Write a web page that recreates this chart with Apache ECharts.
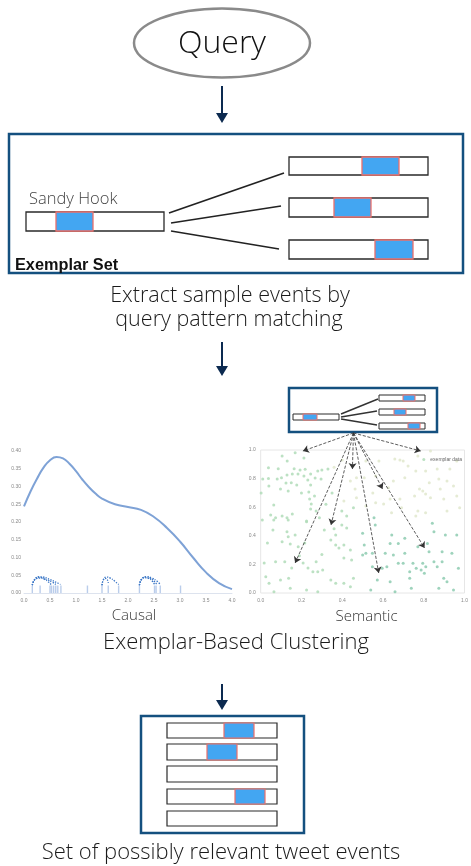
<!DOCTYPE html>
<html><head><meta charset="utf-8">
<script src="https://cdn.jsdelivr.net/npm/echarts@6/dist/echarts.min.js"></script>
<style>html,body{margin:0;padding:0;background:#fff}#c{width:471px;height:866px}</style>
</head><body><div id="c"></div>
<script>
// ---- Causal panel (KDE) ----
const kdeX = [0, 0.125, 0.25, 0.375, 0.5, 0.625, 0.75, 0.875, 1.0, 1.125, 1.25, 1.375, 1.5, 1.75, 2.0, 2.25, 2.5, 2.75, 3.0, 3.25, 3.5, 3.75, 4.0];
const kdeY = [0.244, 0.286, 0.322, 0.353, 0.374, 0.383, 0.379, 0.364, 0.343, 0.319, 0.298, 0.280, 0.266, 0.250, 0.242, 0.234, 0.214, 0.183, 0.145, 0.100, 0.058, 0.028, 0.011];
const rugX = [0.16, 0.31, 0.50, 0.53, 0.57, 0.61, 0.65, 0.71, 1.22, 1.50, 1.62, 1.82, 2.22, 2.51, 2.54, 2.62, 3.01];
const arcs = [
  [[0.16,0.022],[0.19,0.034],[0.25,0.041],[0.31,0.042],[0.40,0.038],[0.47,0.031],[0.52,0.024]],
  [[0.16,0.022],[0.20,0.037],[0.27,0.044],[0.34,0.043],[0.45,0.037],[0.55,0.030],[0.61,0.024]],
  [[0.16,0.022],[0.21,0.039],[0.29,0.046],[0.37,0.045],[0.50,0.038],[0.62,0.030],[0.70,0.024]],
  [[1.50,0.022],[1.52,0.035],[1.56,0.041],[1.60,0.038],[1.62,0.028]],
  [[1.50,0.022],[1.53,0.038],[1.59,0.045],[1.66,0.042],[1.74,0.034],[1.82,0.024]],
  [[2.22,0.022],[2.25,0.036],[2.32,0.043],[2.40,0.041],[2.47,0.033],[2.51,0.024]],
  [[2.22,0.022],[2.26,0.039],[2.34,0.045],[2.43,0.042],[2.50,0.034],[2.55,0.025]],
  [[2.22,0.022],[2.27,0.040],[2.36,0.046],[2.46,0.042],[2.56,0.033],[2.62,0.024]]
];
// ---- Semantic panel (scatter) ----
const semGreen = [[0.105,0.958],[0.169,0.981],[0.212,0.944],[0.13,0.923],[0.038,0.876],[0.086,0.869],[0.164,0.869],[0.193,0.86],[0.218,0.865],[0.28,0.853],[0.30,0.86],[0.33,0.867],[0.01,0.797],[0.038,0.8],[0.081,0.797],[0.102,0.806],[0.129,0.825],[0.155,0.832],[0.183,0.832],[0.212,0.818],[0.245,0.832],[0.267,0.804],[0.04,0.748],[0.124,0.769],[0.15,0.771],[0.177,0.755],[0.231,0.79],[0.245,0.755],[0.296,0.797],[0.002,0.70],[0.097,0.727],[0.135,0.713],[0.2,0.70],[0.236,0.706],[0.264,0.678],[0.24,0.657],[0.248,0.622],[0.245,0.587],[0.064,0.615],[0.049,0.545],[0.073,0.527],[0.105,0.538],[0.129,0.527],[0.155,0.552],[0.135,0.51],[0.225,0.503],[0.272,0.573],[0.288,0.527],[0.398,0.573],[0.422,0.538],[0.455,0.597],[0.008,0.51],[0.064,0.51],[0.225,0.499],[0.312,0.441],[0.398,0.476],[0.422,0.455],[0.129,0.429],[0.169,0.406],[0.135,0.394],[0.033,0.35],[0.105,0.359],[0.145,0.343],[0.184,0.324],[0.216,0.35],[0.368,0.336],[0.384,0.315],[0.408,0.336],[0.44,0.301],[0.408,0.245],[0.446,0.231],[0.017,0.21],[0.073,0.219],[0.118,0.219],[0.152,0.175],[0.208,0.21],[0.232,0.175],[0.256,0.149],[0.28,0.149],[0.304,0.161],[0.272,0.219],[0.025,0.114],[0.097,0.091],[0.137,0.103],[0.041,0.068],[0.145,0.033],[0.065,0.009],[0.225,0.021],[0.28,0.009],[0.344,0.091],[0.368,0.068],[0.408,0.068],[0.44,0.044],[0.455,0.103],[0.344,0.371],[0.368,0.406],[0.32,0.62],[0.35,0.70],[0.36,0.45],[0.30,0.27],[0.06,0.44],[0.19,0.26]];
const semPale = [[0.408,0.643],[0.47,0.666],[0.463,0.727],[0.44,0.783],[0.47,0.806],[0.833,0.993],[0.771,0.958],[0.658,0.937],[0.683,0.93],[0.699,0.923],[0.516,0.923],[0.58,0.923],[0.723,0.888],[0.761,0.853],[0.809,0.853],[0.866,0.867],[0.928,0.867],[0.962,0.923],[0.508,0.806],[0.564,0.818],[0.651,0.783],[0.707,0.806],[0.874,0.797],[0.914,0.783],[0.827,0.771],[0.946,0.748],[0.627,0.736],[0.779,0.727],[0.795,0.713],[0.881,0.727],[0.809,0.692],[0.755,0.678],[0.833,0.666],[0.898,0.657],[0.962,0.678],[0.683,0.657],[0.635,0.657],[0.603,0.622],[0.564,0.631],[0.516,0.608],[0.691,0.597],[0.771,0.573],[0.809,0.562],[0.914,0.573],[0.976,0.597],[0.761,0.538],[0.642,0.562],[0.40,0.93],[0.36,0.88],[0.55,0.70]];
const semTeal = [[0.556,0.527],[0.562,0.476],[0.5,0.417],[0.643,0.406],[0.707,0.382],[0.842,0.487],[0.85,0.429],[0.906,0.406],[0.962,0.406],[0.635,0.347],[0.675,0.347],[0.818,0.347],[0.771,0.324],[0.5,0.266],[0.548,0.278],[0.611,0.278],[0.651,0.266],[0.707,0.278],[0.826,0.289],[0.89,0.289],[0.938,0.278],[0.675,0.208],[0.699,0.208],[0.747,0.208],[0.795,0.208],[0.85,0.219],[0.89,0.219],[0.548,0.184],[0.596,0.173],[0.619,0.184],[0.763,0.173],[0.787,0.161],[0.81,0.184],[0.866,0.184],[0.97,0.173],[0.731,0.149],[0.731,0.103],[0.803,0.138],[0.898,0.103],[0.914,0.079],[0.572,0.091],[0.635,0.079],[0.54,0.021],[0.659,0.009],[0.739,0.033],[0.874,0.033],[0.946,0.021],[0.516,0.278],[0.508,0.336]];
const arrowFrom = [0.455, 1.119];
const arrowTo = [[0.207,0.993],[0.785,0.993],[0.45,0.867],[0.598,0.727],[0.345,0.476],[0.169,0.21],[0.579,0.14],[0.804,0.315]];

const FONT = '"Open Sans", "Liberation Sans", Arial, sans-serif';
const BLUE_BOX = '#14507f';
const HL = '#43a6f2';
const HL_BORDER = '#ec6f6a';

function bar(x, y, w, h, hx, hw, lw) {
  const els = [{type:'rect', shape:{x:x, y:y, width:w, height:h}, style:{fill:'#fff', stroke:'#2a2a2a', lineWidth:lw}}];
  if (hw) els.push({type:'rect', shape:{x:hx, y:y, width:hw, height:h}, style:{fill:HL, stroke:HL_BORDER, lineWidth:lw}});
  return els;
}
function arrow(x, y1, y2) {
  return [
    {type:'line', shape:{x1:x, y1:y1, x2:x, y2:y2-8}, style:{stroke:'#0c2a50', lineWidth:2}},
    {type:'polygon', shape:{points:[[x-6,y2-10],[x+6,y2-10],[x,y2]]}, style:{fill:'#0c2a50'}}
  ];
}
function txt(x, y, s, size, extra) {
  return {type:'text', x:x, y:y, style:Object.assign({text:s, fontSize:size, fontFamily:FONT, fontWeight:300, fill:'#1a1a1a', align:'center', verticalAlign:'middle'}, extra||{})};
}

let g = [];
g.push({type:'ellipse', shape:{cx:222, cy:43, rx:88, ry:34.5}, style:{fill:'#fff', stroke:'#8a8a8a', lineWidth:2.5}});
g.push(txt(222, 44, 'Query', 32, {fill:'#111'}));
g = g.concat(arrow(222, 86, 123));
// exemplar box
g.push({type:'rect', shape:{x:9, y:134, width:454, height:139}, style:{fill:'#fff', stroke:BLUE_BOX, lineWidth:2.5}});
g.push(txt(29, 199, 'Sandy Hook', 16.5, {align:'left', fill:'#444'}));
g = g.concat(bar(26, 212, 138, 19, 56, 37, 1.3));
g = g.concat(bar(289, 157, 139, 18, 362, 37, 1.3));
g = g.concat(bar(289, 198, 139, 19, 334, 37, 1.3));
g = g.concat(bar(289, 240, 139, 19, 375, 38, 1.3));
[[169,213,284,173],[171,223,281,206],[171,231,279,249]].forEach(function(l){
  g.push({type:'line', shape:{x1:l[0], y1:l[1], x2:l[2], y2:l[3]}, style:{stroke:'#222', lineWidth:1.6}});
});
g.push(txt(15, 266, 'Exemplar Set', 16.3, {align:'left', fontWeight:'bold', fill:'#111', fontFamily:'"Liberation Sans", Arial, sans-serif'}));
g.push(txt(230, 296, 'Extract sample events by', 21.5));
g.push(txt(229, 320, 'query pattern matching', 21.5));
g = g.concat(arrow(222, 342, 376));
// inset box
g.push({type:'rect', shape:{x:289, y:388, width:148, height:44}, style:{fill:'#fff', stroke:BLUE_BOX, lineWidth:2.5}});
g = g.concat(bar(293, 414, 46, 6, 303, 14, 1));
g = g.concat(bar(379, 395, 46, 6, 403, 12, 1));
g = g.concat(bar(379, 409, 46, 6, 394, 12, 1));
g = g.concat(bar(379, 423, 46, 6, 408, 12, 1));
[[341,414,378,399],[341,417,377,411],[341,419,377,425]].forEach(function(l){
  g.push({type:'line', shape:{x1:l[0], y1:l[1], x2:l[2], y2:l[3]}, style:{stroke:'#333', lineWidth:1.4}});
});
g.push(txt(236, 643, 'Exemplar-Based Clustering', 22));
g = g.concat(arrow(222, 684, 710));
// result box
g.push({type:'rect', shape:{x:141, y:716, width:163, height:117}, style:{fill:'#fff', stroke:BLUE_BOX, lineWidth:2.5}});
g = g.concat(bar(167, 723, 110, 15, 224, 30, 1.2));
g = g.concat(bar(167, 744, 110, 16, 207, 30, 1.2));
g = g.concat(bar(167, 766, 110, 16, 0, 0, 1.2));
g = g.concat(bar(167, 789, 110, 15, 235, 30, 1.2));
g = g.concat(bar(167, 811, 110, 15, 0, 0, 1.2));
g.push(txt(221, 853, 'Set of possibly relevant tweet events', 22));

const tickLbl = {fontSize:5, color:'#888', fontFamily:'"Liberation Sans", Arial, sans-serif'};
const arcSeries = arcs.map(function(a){
  return {type:'line', xAxisIndex:0, yAxisIndex:0, data:a, smooth:true, showSymbol:false, symbol:'none', silent:true,
    lineStyle:{color:'#3a76c6', width:1.3, type:'dotted'}, z:3};
});

const chart = echarts.init(document.getElementById('c'), null, {renderer:'canvas'});
chart.setOption({
  animation:false,
  backgroundColor:'#fff',
  legend:{data:['exemplar data'], right:4, top:452, itemWidth:3, itemHeight:3, itemGap:2, textStyle:{fontSize:5, color:'#666', fontFamily:'"Liberation Sans", Arial, sans-serif'}, icon:'circle'},
  grid:[
    {left:24, right:239, top:451, bottom:273},
    {left:260.7, right:1, top:450, bottom:273, show:true, borderColor:'#e6e6e6', borderWidth:1, backgroundColor:'#fff'}
  ],
  xAxis:[
    {type:'value', gridIndex:0, min:0, max:4, interval:0.5, name:'Causal', nameLocation:'middle', nameGap:15,
     nameTextStyle:{fontSize:15, color:'#333', fontFamily:FONT, fontWeight:300, padding:[0,0,0,12]},
     axisLine:{show:true, lineStyle:{color:'#dde3ee', width:1}}, axisTick:{show:false}, splitLine:{show:false},
     axisLabel:Object.assign({margin:5, formatter:function(v){return v.toFixed(1);}}, tickLbl)},
    {type:'value', gridIndex:1, min:0, max:1, interval:0.2, name:'Semantic', nameLocation:'middle', nameGap:16,
     nameTextStyle:{fontSize:15, color:'#333', fontFamily:FONT, fontWeight:300, padding:[0,0,0,8]},
     axisLine:{show:false}, axisTick:{show:false}, splitLine:{show:false},
     axisLabel:Object.assign({margin:5, formatter:function(v){return v.toFixed(1);}}, tickLbl)}
  ],
  yAxis:[
    {type:'value', gridIndex:0, min:0, max:0.4, interval:0.05, axisLine:{show:false}, axisTick:{show:false}, splitLine:{show:false},
     axisLabel:Object.assign({margin:3, formatter:function(v){return v.toFixed(2);}}, tickLbl)},
    {type:'value', gridIndex:1, min:0, max:1, interval:0.2, axisLine:{show:false}, axisTick:{show:false}, splitLine:{show:false},
     axisLabel:Object.assign({margin:5, formatter:function(v){return v.toFixed(1);}}, tickLbl)}
  ],
  series:[
    {type:'line', xAxisIndex:0, yAxisIndex:0, data:kdeX.map(function(x,i){return [x, kdeY[i]];}), smooth:0.5, showSymbol:false, symbol:'none',
     lineStyle:{color:'#7ea2d6', width:2}, z:2},
    {type:'scatter', xAxisIndex:0, yAxisIndex:0, data:rugX.map(function(x){return [x, 0.0105];}), symbol:'rect', symbolSize:[1.4, 7.5],
     itemStyle:{color:'#a9c1e6'}, z:2}
  ].concat(arcSeries).concat([
    {name:'exemplar data', type:'scatter', xAxisIndex:1, yAxisIndex:1, data:semGreen, symbolSize:3, itemStyle:{color:'#b0dcb8', opacity:0.85}},
    {name:'pale', type:'scatter', xAxisIndex:1, yAxisIndex:1, data:semPale, symbolSize:3, itemStyle:{color:'#e0e8cc', opacity:0.85}},
    {name:'teal', type:'scatter', xAxisIndex:1, yAxisIndex:1, data:semTeal, symbolSize:3, itemStyle:{color:'#8dcbb0', opacity:0.85}},
    {type:'lines', coordinateSystem:'cartesian2d', xAxisIndex:1, yAxisIndex:1, clip:false, z:5,
     symbol:['none','arrow'], symbolSize:6,
     lineStyle:{color:'#333', width:0.8, type:'dashed', opacity:1},
     data:arrowTo.map(function(t){return {coords:[arrowFrom, t]};})}
  ]),
  graphic:g
});
</script></body></html>
